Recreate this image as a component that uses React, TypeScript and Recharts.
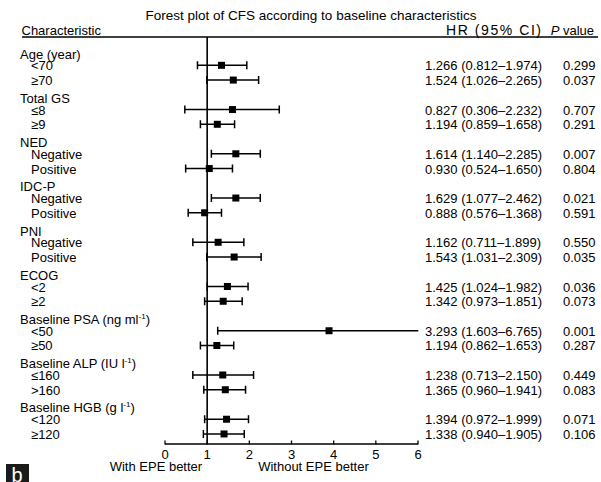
import React from 'react';
import { ScatterChart, Scatter, XAxis, YAxis, ErrorBar, ReferenceLine, Customized } from 'recharts';

const groupLabels = [
  'Age (year)',
  'Total GS',
  'NED',
  'IDC-P',
  'PNI',
  'ECOG',
  'Baseline PSA (ng ml⁻¹)',
  'Baseline ALP (IU l⁻¹)',
  'Baseline HGB (g l⁻¹)',
];

const subLabels = [
  '<70', '≥70',
  '≤8', '≥9',
  'Negative', 'Positive',
  'Negative', 'Positive',
  'Negative', 'Positive',
  '<2', '≥2',
  '<50', '≥50',
  '≤160', '>160',
  '<120', '≥120',
];

// plotted positions
const hrPoint = [1.34, 1.62, 1.6, 1.24, 1.68, 1.05, 1.68, 0.94, 1.26, 1.64, 1.48, 1.38, 3.89, 1.23, 1.37, 1.43, 1.46, 1.4];
const ciLow = [0.77, 0.99, 0.47, 0.84, 1.1, 0.49, 1.1, 0.55, 0.66, 0.99, 1.0, 0.94, 1.25, 0.84, 0.66, 0.92, 0.94, 0.91];
const ciHigh = [1.94, 2.22, 2.71, 1.65, 2.26, 1.6, 2.26, 1.34, 1.87, 2.28, 1.97, 1.83, 6.765, 1.63, 2.1, 1.91, 1.98, 1.88];

const hrText = [
  '1.266 (0.812–1.974)', '1.524 (1.026–2.265)',
  '0.827 (0.306–2.232)', '1.194 (0.859–1.658)',
  '1.614 (1.140–2.285)', '0.930 (0.524–1.650)',
  '1.629 (1.077–2.462)', '0.888 (0.576–1.368)',
  '1.162 (0.711–1.899)', '1.543 (1.031–2.309)',
  '1.425 (1.024–1.982)', '1.342 (0.973–1.851)',
  '3.293 (1.603–6.765)', '1.194 (0.862–1.653)',
  '1.238 (0.713–2.150)', '1.365 (0.960–1.941)',
  '1.394 (0.972–1.999)', '1.338 (0.940–1.905)',
];
const pText = [
  '0.299', '0.037', '0.707', '0.291', '0.007', '0.804', '0.021', '0.591', '0.550',
  '0.035', '0.036', '0.073', '0.001', '0.287', '0.449', '0.083', '0.071', '0.106',
];

const xTicks = [0, 1, 2, 3, 4, 5, 6];

const FONT = '"Liberation Sans", Arial, Helvetica, sans-serif';
const FS = 13;

const data = subLabels.map((label, i) => ({
  label,
  row: Math.floor(i / 2) * 3 + 1 + (i % 2),
  hr: hrPoint[i],
  err: [hrPoint[i] - ciLow[i], ciHigh[i] - hrPoint[i]],
}));

const rowTicks = Array.from({ length: groupLabels.length * 3 }, (_, i) => i);
const yDomain = [-0.92, 26.68];

function renderLabel(text: string) {
  const parts = text.split('⁻¹');
  if (parts.length === 1) return text;
  return [
    <tspan key="a">{parts[0]}</tspan>,
    <tspan key="b" fontSize={8} dy={-5}>-1</tspan>,
    <tspan key="c" fontSize={FS} dy={5}>{parts[1]}</tspan>,
  ];
}

const LeftTick = (props: any) => {
  const { x, y, payload } = props;
  const v = payload.value as number;
  const g = Math.floor(v / 3);
  const r = v % 3;
  if (r === 0) {
    return (
      <text x={x - 145} y={y + 8} fontSize={FS} fontFamily={FONT} fill="#000">
        {renderLabel(groupLabels[g])}
      </text>
    );
  }
  const i = g * 2 + r - 1;
  return (
    <text x={x - 134} y={y + 5} fontSize={FS} fontFamily={FONT} fill="#000">
      {subLabels[i]}
    </text>
  );
};

const RightTick = (props: any) => {
  const { x, y, payload } = props;
  const v = payload.value as number;
  const g = Math.floor(v / 3);
  const r = v % 3;
  if (r === 0) return <g />;
  const i = g * 2 + r - 1;
  return (
    <g>
      <text x={x + 7} y={y + 5} fontSize={FS} fontFamily={FONT} fill="#000">{hrText[i]}</text>
      <text x={x + 145} y={y + 5} fontSize={FS} fontFamily={FONT} fill="#000">{pText[i]}</text>
    </g>
  );
};

const XTick = (props: any) => {
  const { x, y, payload } = props;
  return (
    <g>
      <line x1={x} x2={x} y1={y - 3.5} y2={y + 0.5} stroke="#000" strokeWidth={1.3} />
      <text x={x} y={y + 15} textAnchor="middle" fontSize={FS} fontFamily={FONT} fill="#000">
        {payload.value}
      </text>
      {payload.value === 1 ? (
        <g>
          <text x={x - 5} y={y + 26.5} textAnchor="end" fontSize={FS} fontFamily={FONT} fill="#000">With EPE better</text>
          <text x={x + 51} y={y + 26.5} textAnchor="start" fontSize={FS} fontFamily={FONT} fill="#000">Without EPE better</text>
        </g>
      ) : null}
    </g>
  );
};

const Square = (props: any) => {
  const { cx, cy } = props;
  return <rect x={cx - 3.5} y={cy - 3.5} width={7} height={7} fill="#000" />;
};

const Header = () => (
  <g fontFamily={FONT} fill="#000">
    <defs>
      <clipPath id="fpPlotClip">
        <rect x={165} y={37} width={253.3} height={407} />
      </clipPath>
    </defs>
    <text x={311} y={20} textAnchor="middle" fontSize={13.5}>
      Forest plot of CFS according to baseline characteristics
    </text>
    <text x={21.5} y={35} fontSize={FS}>Characteristic</text>
    <text x={446} y={35} fontSize={14} textLength={95} lengthAdjust="spacing">HR (95% CI)</text>
    <text x={550.7} y={35} fontSize={FS}>
      <tspan fontStyle="italic">P</tspan> value
    </text>
    <line x1={22} x2={598} y1={37} y2={37} stroke="#000" strokeWidth={1.3} />
    <rect x={6} y={464} width={23} height={18} fill="#1a1a1a" />
    <text x={11.5} y={482} fontSize={20} fill="#fff">b</text>
  </g>
);

const css = `.recharts-errorBars, .recharts-errorBar, .recharts-scatter { clip-path: url(#fpPlotClip); }`;

export default function App() {
  return (
    <div style={{ position: 'absolute', left: 0, top: 0, background: '#fff' }}>
      <style>{css}</style>
      <ScatterChart width={601} height={482} margin={{ top: 37, right: 0, bottom: 0, left: 0 }}>
        <XAxis
          type="number"
          dataKey="hr"
          domain={[0, 6]}
          ticks={xTicks}
          interval={0}
          allowDataOverflow
          height={38}
          axisLine={{ stroke: '#000', strokeWidth: 1.5 }}
          tickLine={false}
          tickSize={0}
          tickMargin={0}
          tick={XTick}
        />
        <YAxis
          yAxisId="left"
          type="number"
          dataKey="row"
          domain={yDomain}
          reversed
          allowDataOverflow
          ticks={rowTicks}
          interval={0}
          width={165}
          axisLine={false}
          tickLine={false}
          tickSize={0}
          tickMargin={0}
          tick={LeftTick}
        />
        <YAxis
          yAxisId="right"
          orientation="right"
          type="number"
          dataKey="row"
          domain={yDomain}
          reversed
          allowDataOverflow
          ticks={rowTicks}
          interval={0}
          width={183}
          axisLine={false}
          tickLine={false}
          tickSize={0}
          tickMargin={0}
          tick={RightTick}
        />
        <ReferenceLine x={1} yAxisId="left" stroke="#000" strokeWidth={1.6} />
        <Scatter yAxisId="left" data={data} shape={Square} isAnimationActive={false}>
          <ErrorBar dataKey="err" direction="x" width={4} stroke="#000" strokeWidth={1.5} />
        </Scatter>
        <Customized component={<Header />} />
      </ScatterChart>
    </div>
  );
}
